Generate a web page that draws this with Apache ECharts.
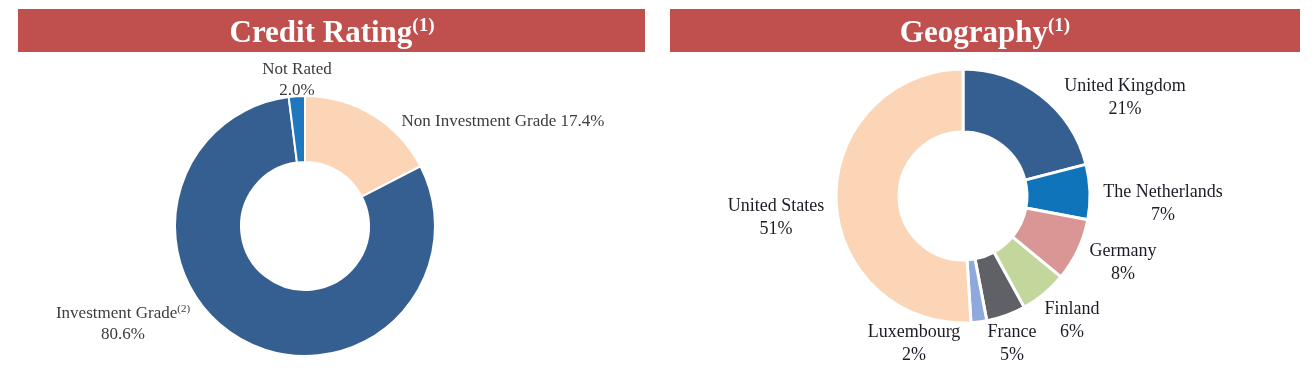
<!DOCTYPE html>
<html><head><meta charset="utf-8">
<script src="https://cdn.jsdelivr.net/npm/echarts@6/dist/echarts.min.js"></script>
<style>html,body{margin:0;padding:0;background:#fff}#c{width:1312px;height:372px}</style>
</head><body><div id="c"></div>
<script>
// ---- data ----
const ratingNames = ['Non Investment Grade', 'Investment Grade', 'Not Rated'];
const ratingValues = [17.4, 80.6, 2.0];

const geoNames = ['United Kingdom', 'The Netherlands', 'Germany', 'Finland', 'France', 'Luxembourg', 'United States'];
const geoValues = [21, 7, 8, 6, 5, 2, 51];

const titles = ['Credit Rating', 'Geography'];

// ---- styles / layout ----
const ratingColors = ['#FBD5B5', '#365F91', '#1F77BD'];
const geoColors = ['#365F91', '#0F74BA', '#D99694', '#C3D69B', '#5F6166', '#8EA9DB', '#FBD5B5'];
const FONT = '"Liberation Serif", "DejaVu Serif", serif';
const ratingCenter = [305, 226];
const geoCenter = [963, 196];
// label block centre offsets from the pie centre (text placement only)
const ratingLabelOffset = {'Non Investment Grade': [198, -104], 'Investment Grade': [-182, 98], 'Not Rated': [-8, -146]};
const geoLabelOffset = {
  'United Kingdom': [162, -98], 'The Netherlands': [200, 8], 'Germany': [160, 67], 'Finland': [109, 125],
  'France': [49, 148], 'Luxembourg': [-49, 148], 'United States': [-187, 22]
};

const chart = echarts.init(document.getElementById('c'), null, {renderer: 'canvas'});

function ratingLabel(p) {
  if (p.name === 'Investment Grade') return p.name + '{sup|(2)}\n' + p.value.toFixed(1) + '%';
  if (p.name === 'Not Rated') return p.name + '\n' + p.value.toFixed(1) + '%';
  return p.name + ' ' + p.value.toFixed(1) + '%';
}

function layoutFor(names, center, offsets) {
  return function (params) {
    const o = offsets[names[params.dataIndex]];
    return {x: center[0] + o[0], y: center[1] + o[1], align: 'center', verticalAlign: 'middle'};
  };
}

const titleStyle = {fontFamily: FONT, fontSize: 31, fontWeight: 'bold', color: '#fff',
  rich: {s: {fontFamily: FONT, fontSize: 19, fontWeight: 'bold', color: '#fff', padding: [0, 0, 14, 0]}}};

chart.setOption({
  animation: false,
  title: [
    {text: titles[0] + '{s|(1)}', left: 327, top: 12, textAlign: 'center', textStyle: titleStyle},
    {text: titles[1] + '{s|(1)}', left: 980, top: 12, textAlign: 'center', textStyle: titleStyle}
  ],
  graphic: [
    {type: 'rect', shape: {x: 18, y: 9, width: 627, height: 43}, style: {fill: '#C0504D'}, z: -1},
    {type: 'rect', shape: {x: 670, y: 9, width: 630, height: 43}, style: {fill: '#C0504D'}, z: -1}
  ],
  series: [
    {
      type: 'pie', center: ratingCenter, radius: [64, 130], startAngle: 90, clockwise: true,
      itemStyle: {borderColor: '#fff', borderWidth: 2},
      label: {show: true, position: 'outside', formatter: ratingLabel, fontFamily: FONT, fontSize: 17,
              color: '#3c3c3c', lineHeight: 21,
              rich: {sup: {fontSize: 11, fontFamily: FONT, color: '#3c3c3c', padding: [0, 0, 9, 0]}}},
      labelLine: {show: false},
      labelLayout: layoutFor(ratingNames, ratingCenter, ratingLabelOffset),
      data: ratingNames.map((n, i) => ({name: n, value: ratingValues[i], itemStyle: {color: ratingColors[i]}}))
    },
    {
      type: 'pie', center: geoCenter, radius: [64, 127], startAngle: 90, clockwise: true,
      itemStyle: {borderColor: '#fff', borderWidth: 3},
      label: {show: true, position: 'outside', formatter: p => p.name + '\n' + p.value + '%', fontFamily: FONT, fontSize: 18,
              color: '#1c1c26', lineHeight: 23},
      labelLine: {show: false},
      labelLayout: layoutFor(geoNames, geoCenter, geoLabelOffset),
      data: geoNames.map((n, i) => ({name: n, value: geoValues[i], itemStyle: {color: geoColors[i]}}))
    }
  ]
});
</script></body></html>
